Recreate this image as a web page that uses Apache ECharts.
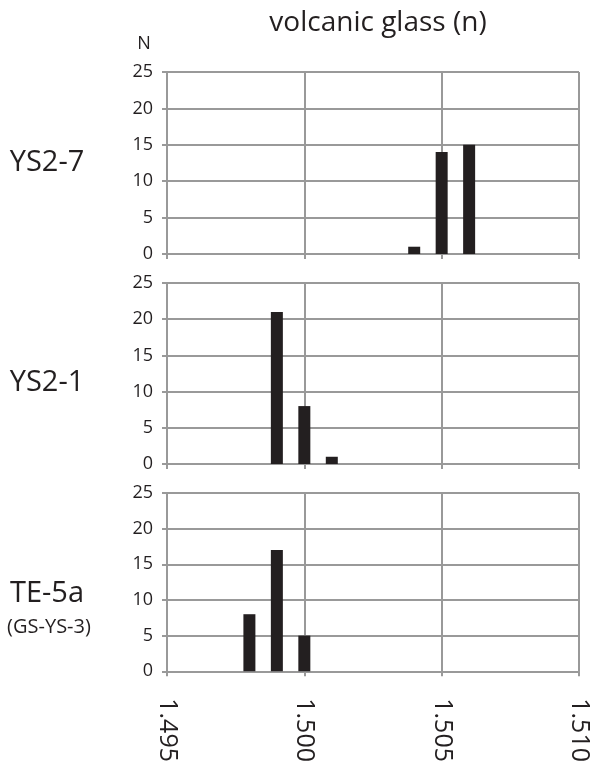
<!DOCTYPE html>
<html>
<head>
<meta charset="utf-8">
<script src="https://cdn.jsdelivr.net/npm/echarts@6/dist/echarts.min.js"></script>
<style>html,body{margin:0;padding:0;background:#fff;}#c{width:599px;height:765px;}</style>
</head>
<body>
<div id="c"></div>
<script>
// Refractive index bins (n) and counts (N) per sample
const panelNames = ['YS2-7', 'YS2-1', 'TE-5a'];
const panelSub = ['', '', '(GS-YS-3)'];
const ys27_n = [1.504, 1.505, 1.506];
const ys27_N = [1, 14, 15];
const ys21_n = [1.499, 1.500, 1.501];
const ys21_N = [21, 8, 1];
const te5a_n = [1.498, 1.499, 1.500];
const te5a_N = [8, 17, 5];
const xTicks = [1.495, 1.500, 1.505, 1.510];
const yTicks = [0, 5, 10, 15, 20, 25];

const FONT = '"Open Sans", "Noto Sans", sans-serif';
const INK = '#231f20';
const GRID = '#999999';

const chart = echarts.init(document.getElementById('c'));
const gridPos = [
  { top: 72, height: 182 },
  { top: 283, height: 181 },
  { top: 493, height: 182 }
];
const seriesData = [
  ys27_n.map((x, i) => [x, ys27_N[i]]),
  ys21_n.map((x, i) => [x, ys21_N[i]]),
  te5a_n.map((x, i) => [x, te5a_N[i]])
];

const grids = [], xAxes = [], yAxes = [], series = [];
gridPos.forEach((g, i) => {
  grids.push({ left: 167, right: 20, top: g.top, height: g.height, containLabel: false });
  xAxes.push({
    type: 'value', gridIndex: i,
    min: xTicks[0], max: xTicks[xTicks.length - 1], interval: 0.005,
    axisLine: { show: true, lineStyle: { color: GRID, width: 2 } },
    axisTick: { show: true, length: 5, lineStyle: { color: GRID, width: 2 } },
    splitLine: { show: true, lineStyle: { color: GRID, width: 2 } },
    axisLabel: {
      show: i === 2, rotate: -90, margin: 27,
      fontFamily: FONT, fontSize: 25, color: INK,
      formatter: v => v.toFixed(3)
    }
  });
  yAxes.push({
    type: 'value', gridIndex: i,
    min: yTicks[0], max: yTicks[yTicks.length - 1], interval: 5,
    axisLine: { show: true, lineStyle: { color: GRID, width: 2 } },
    axisTick: { show: true, length: 5, lineStyle: { color: GRID, width: 2 } },
    splitLine: { show: true, lineStyle: { color: GRID, width: 2 } },
    axisLabel: { margin: 14, fontFamily: FONT, fontSize: 18, color: INK }
  });
  series.push({
    type: 'bar', xAxisIndex: i, yAxisIndex: i,
    data: seriesData[i], barWidth: 12,
    itemStyle: { color: INK }, animation: false
  });
});

const labelY = [163, 383, 594];
const text = [];
text.push({ type: 'text', x: 378, y: 23, style: { text: 'volcanic glass (n)', font: '28px ' + FONT, fill: INK, align: 'center', verticalAlign: 'middle' } });
text.push({ type: 'text', x: 144, y: 44, style: { text: 'N', font: '18px ' + FONT, fill: INK, align: 'center', verticalAlign: 'middle' } });
panelNames.forEach((nm, i) => {
  text.push({ type: 'text', x: 47, y: labelY[i], style: { text: nm, font: '29px ' + FONT, fill: INK, align: 'center', verticalAlign: 'middle' } });
  if (panelSub[i]) {
    text.push({ type: 'text', x: 49, y: 627, style: { text: panelSub[i], font: '20px ' + FONT, fill: INK, align: 'center', verticalAlign: 'middle' } });
  }
});

chart.setOption({
  animation: false,
  backgroundColor: '#fff',
  grid: grids, xAxis: xAxes, yAxis: yAxes, series: series,
  graphic: text
});
</script>
</body>
</html>
